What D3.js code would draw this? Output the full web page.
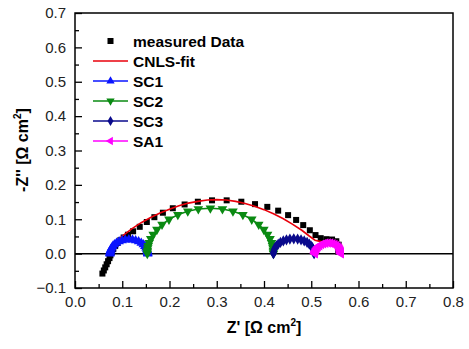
<!DOCTYPE html>
<html>
<head>
<meta charset="utf-8">
<script src="https://cdn.jsdelivr.net/npm/d3@7/dist/d3.min.js"></script>
<style>
  html, body { margin: 0; padding: 0; background: #fff; }
  svg { display: block; font-family: "Liberation Sans", Arial, sans-serif; }
</style>
</head>
<body>
<svg id="chart" width="469" height="349"></svg>
<script>
// Nyquist plot: measured impedance, CNLS fit and the fitted sub-arcs
const xTicks = [0.0, 0.1, 0.2, 0.3, 0.4, 0.5, 0.6, 0.7, 0.8];
const yTicks = [-0.1, 0.0, 0.1, 0.2, 0.3, 0.4, 0.5, 0.6, 0.7];
const xMinor = [0.05, 0.15, 0.25, 0.35, 0.45, 0.55, 0.65, 0.75];
const yMinor = [-0.05, 0.05, 0.15, 0.25, 0.35, 0.45, 0.55, 0.65];

const seriesNames = ["measured Data", "CNLS-fit", "SC1", "SC2", "SC3", "SA1"];

// [Z', -Z''] in Ω cm²
const measured = [
  [0.058,-0.058],[0.061,-0.049],[0.064,-0.040],[0.067,-0.031],[0.070,-0.022],
  [0.073,-0.013],[0.075,-0.005],[0.078,0.004],[0.081,0.013],[0.085,0.022],
  [0.090,0.031],[0.096,0.039],[0.103,0.047],[0.112,0.055],[0.123,0.065],
  [0.137,0.078],[0.152,0.092],[0.168,0.106],[0.186,0.119],[0.207,0.132],
  [0.232,0.143],[0.260,0.151],[0.290,0.155],[0.321,0.155],[0.352,0.151],
  [0.381,0.144],[0.407,0.136],[0.430,0.125],[0.451,0.112],[0.468,0.098],
  [0.483,0.083],[0.497,0.068],[0.509,0.054],[0.520,0.045],[0.532,0.042],
  [0.544,0.041],[0.553,0.036],[0.558,0.026],[0.559,0.015],[0.557,0.006]
];

const cnlsFit = [
  [0.088,0.036],[0.100,0.051],[0.120,0.072],[0.140,0.090],[0.160,0.105],
  [0.180,0.118],[0.200,0.129],[0.220,0.139],[0.240,0.147],[0.260,0.152],
  [0.280,0.156],[0.300,0.157],[0.320,0.156],[0.340,0.152],[0.360,0.146],
  [0.380,0.138],[0.400,0.128],[0.420,0.116],[0.440,0.102],[0.460,0.086],
  [0.480,0.068],[0.495,0.052],[0.508,0.039],[0.520,0.035],[0.530,0.035],
  [0.540,0.036],[0.550,0.035],[0.556,0.032]
];

const sc1 = [
  [0.0740,0.0000],[0.0740,0.0014],[0.0741,0.0029],[0.0743,0.0050],[0.0746,0.0071],
  [0.0752,0.0099],[0.0762,0.0133],[0.0777,0.0173],[0.0801,0.0217],[0.0834,0.0264],
  [0.0878,0.0309],[0.0934,0.0351],[0.0997,0.0383],[0.1064,0.0402],[0.1140,0.0410],
  [0.1216,0.0402],[0.1283,0.0383],[0.1346,0.0351],[0.1402,0.0309],[0.1446,0.0264],
  [0.1479,0.0217],[0.1503,0.0173],[0.1518,0.0133],[0.1528,0.0099],[0.1534,0.0071],
  [0.1537,0.0050],[0.1539,0.0029],[0.1540,0.0014],[0.1540,0.0000]
];

const sc2 = [
  [0.1530,0.0000],[0.1531,0.0046],[0.1533,0.0092],[0.1540,0.0161],[0.1550,0.0229],
  [0.1570,0.0319],[0.1603,0.0430],[0.1655,0.0558],[0.1733,0.0699],[0.1842,0.0848],
  [0.1989,0.0996],[0.2177,0.1132],[0.2387,0.1232],[0.2610,0.1296],[0.2865,0.1320],
  [0.3120,0.1296],[0.3343,0.1232],[0.3553,0.1132],[0.3741,0.0996],[0.3888,0.0848],
  [0.3997,0.0699],[0.4075,0.0558],[0.4127,0.0430],[0.4160,0.0319],[0.4180,0.0229],
  [0.4190,0.0161],[0.4197,0.0092],[0.4199,0.0046],[0.4200,0.0000]
];

const sc3 = [
  [0.4200,0.0000],[0.4200,0.0015],[0.4201,0.0030],[0.4203,0.0052],[0.4207,0.0075],
  [0.4213,0.0104],[0.4223,0.0140],[0.4240,0.0182],[0.4265,0.0228],[0.4301,0.0276],
  [0.4348,0.0325],[0.4409,0.0369],[0.4476,0.0401],[0.4548,0.0422],[0.4630,0.0430],
  [0.4712,0.0422],[0.4784,0.0401],[0.4851,0.0369],[0.4912,0.0325],[0.4959,0.0276],
  [0.4995,0.0228],[0.5020,0.0182],[0.5037,0.0140],[0.5047,0.0104],[0.5053,0.0075],
  [0.5057,0.0052],[0.5059,0.0030],[0.5060,0.0015],[0.5060,0.0000]
];

const sa1 = [
  [0.5080,0.0000],[0.5080,0.0011],[0.5081,0.0022],[0.5082,0.0038],[0.5084,0.0054],
  [0.5088,0.0075],[0.5095,0.0101],[0.5106,0.0131],[0.5122,0.0164],[0.5144,0.0199],
  [0.5175,0.0234],[0.5213,0.0266],[0.5256,0.0289],[0.5303,0.0304],[0.5355,0.0310],
  [0.5407,0.0304],[0.5454,0.0289],[0.5497,0.0266],[0.5535,0.0234],[0.5566,0.0199],
  [0.5588,0.0164],[0.5604,0.0131],[0.5615,0.0101],[0.5622,0.0075],[0.5626,0.0054],
  [0.5628,0.0038],[0.5629,0.0022],[0.5630,0.0011],[0.5630,0.0000]
];

const svg = d3.select("#chart");
const plotLeft = 75, plotRight = 453, plotTop = 13, plotBottom = 288;

const x = d3.scaleLinear().domain([0, 0.8]).range([plotLeft, plotRight]);
const y = d3.scaleLinear().domain([-0.1, 0.7]).range([plotBottom, plotTop]);

const fmt = d3.format(".1f");
const tickColor = "#222";

// axes with inward ticks
svg.append("g").attr("transform", `translate(0,${plotBottom})`)
  .call(d3.axisBottom(x).tickValues(xTicks).tickFormat(fmt).tickSize(-7).tickPadding(8));
svg.append("g").attr("transform", `translate(0,${plotBottom})`)
  .call(d3.axisBottom(x).tickValues(xMinor).tickFormat("").tickSize(-4));
svg.append("g").attr("transform", `translate(${plotLeft},0)`)
  .call(d3.axisLeft(y).tickValues(yTicks).tickFormat(fmt).tickSize(-7).tickPadding(9));
svg.append("g").attr("transform", `translate(${plotLeft},0)`)
  .call(d3.axisLeft(y).tickValues(yMinor).tickFormat("").tickSize(-4));

svg.selectAll(".domain").remove();
svg.selectAll(".tick line").attr("stroke", "#000").attr("stroke-width", 1.3);
svg.selectAll(".tick text")
  .attr("font-size", 15).attr("fill", tickColor)
  .attr("font-family", "'Liberation Sans', Arial, sans-serif");

// frame
svg.append("rect")
  .attr("x", plotLeft).attr("y", plotTop)
  .attr("width", plotRight - plotLeft).attr("height", plotBottom - plotTop)
  .attr("fill", "none").attr("stroke", "#000").attr("stroke-width", 1.5);

// zero line
svg.append("line")
  .attr("x1", x(0)).attr("x2", x(0.8))
  .attr("y1", y(0)).attr("y2", y(0))
  .attr("stroke", "#000").attr("stroke-width", 1.5);

const line = d3.line().x(d => x(d[0])).y(d => y(d[1]));
const plot = svg.append("g");

// measured data squares
const sq = 6;
plot.append("g").selectAll("rect").data(measured).join("rect")
  .attr("x", d => x(d[0]) - sq / 2).attr("y", d => y(d[1]) - sq / 2)
  .attr("width", sq).attr("height", sq).attr("fill", "#000");

// CNLS fit
plot.append("path").datum(cnlsFit)
  .attr("d", line).attr("fill", "none")
  .attr("stroke", "#e8000b").attr("stroke-width", 1.6);

const sym = {
  up: d3.symbol().type(d3.symbolTriangle).size(40),
  diamond: d3.symbol().type(d3.symbolDiamond).size(36)
};

const arcs = [
  { data: sc1, color: "#0a14ff", shape: "up", rot: 0 },
  { data: sc2, color: "#0a8a12", shape: "up", rot: 180 },
  { data: sc3, color: "#0a0a8c", shape: "diamond", rot: 0 },
  { data: sa1, color: "#ff00ff", shape: "up", rot: -90 }
];

arcs.forEach(s => {
  const g = plot.append("g");
  g.append("path").datum(s.data).attr("d", line)
    .attr("fill", "none").attr("stroke", s.color).attr("stroke-width", 1.5);
  g.selectAll("path.m").data(s.data).join("path").attr("class", "m")
    .attr("d", sym[s.shape]())
    .attr("transform", d => `translate(${x(d[0])},${y(d[1])}) rotate(${s.rot})`)
    .attr("fill", s.color);
});

// legend
const lg = svg.append("g");
const rowY = [41, 61, 81, 101, 121, 141];
const lx0 = 93, lx1 = 128, lxm = 110.5, tx = 133;
const legendItems = [
  { kind: "square", color: "#000" },
  { kind: "line", color: "#e8000b" },
  { kind: "marker", color: "#0a14ff", shape: "up", rot: 0 },
  { kind: "marker", color: "#0a8a12", shape: "up", rot: 180 },
  { kind: "marker", color: "#0a0a8c", shape: "diamond", rot: 0 },
  { kind: "marker", color: "#ff00ff", shape: "up", rot: -90 }
];
legendItems.forEach((it, i) => {
  const yy = rowY[i];
  if (it.kind === "square") {
    lg.append("rect").attr("x", lxm - 3).attr("y", yy - 3)
      .attr("width", 6).attr("height", 6).attr("fill", "#000");
  } else {
    lg.append("line").attr("x1", lx0).attr("x2", lx1).attr("y1", yy).attr("y2", yy)
      .attr("stroke", it.color).attr("stroke-width", 1.5);
    if (it.kind === "marker") {
      lg.append("path").attr("d", d3.symbol().type(it.shape === "diamond" ? d3.symbolDiamond : d3.symbolTriangle).size(30)())
        .attr("transform", `translate(${lxm},${yy}) rotate(${it.rot})`)
        .attr("fill", it.color);
    }
  }
  lg.append("text").attr("x", tx).attr("y", yy).attr("dy", "0.36em")
    .attr("font-size", 15.5).attr("font-weight", "bold").attr("fill", "#000")
    .text(seriesNames[i]);
});

// axis titles
const xt = svg.append("text").attr("x", 264).attr("y", 333)
  .attr("text-anchor", "middle").attr("font-size", 16).attr("font-weight", "bold");
xt.append("tspan").text("Z' [Ω cm");
xt.append("tspan").attr("font-size", 10).attr("dy", -7).text("2");
xt.append("tspan").attr("dy", 7).text("]");

const yt = svg.append("text")
  .attr("transform", "translate(28,150) rotate(-90)")
  .attr("text-anchor", "middle").attr("font-size", 16).attr("font-weight", "bold");
yt.append("tspan").text("-Z'' [Ω cm");
yt.append("tspan").attr("font-size", 10).attr("dy", -7).text("2");
yt.append("tspan").attr("dy", 7).text("]");
</script>
</body>
</html>
